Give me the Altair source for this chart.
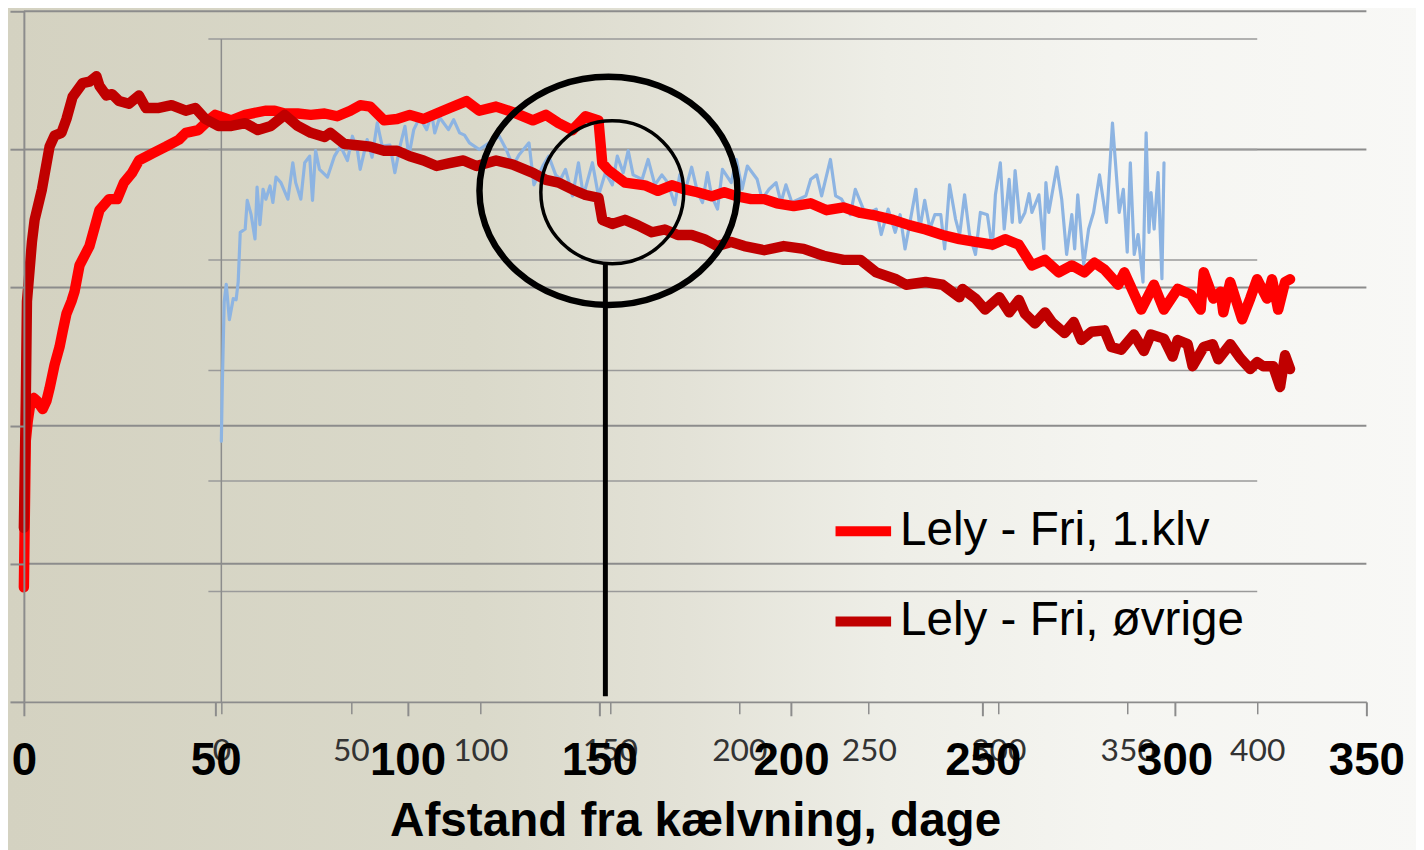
import altair as alt
import pandas as pd

# ---------------- data ----------------
series_names = ["Lely - Fri, 1.klv", "Lely - Fri, øvrige"]
series_colors = ["#FF0000", "#C00000"]

klv1_day = [0, 0.5, 1.0, 1.8, 2.6, 3.4, 4.9, 5.9, 6.7, 8.0,
            9.3, 10.1, 11.1, 12.4, 13.2, 14.5, 17.1, 19.7, 22.2, 24.3,
            26.1, 28.2, 30.0, 33.4, 37.0, 40.4, 42.2, 45.5, 48.1, 49.9,
            54.1, 57.7, 62.9, 65.4, 68.0, 71.4, 74.8, 78.4, 81.7, 85.1,
            87.7, 90.3, 93.9, 97.3, 100.6, 104.2, 107.6, 111.0, 115.4, 118.7,
            123.1, 127.5, 132.7, 136.1, 139.4, 143.0, 146.4, 149.8, 150.8, 152.4,
            156.7, 161.9, 165.3, 168.9, 172.3, 175.6, 179.3, 182.6, 186.0, 189.6,
            193.0, 196.3, 200.7, 205.1, 209.3, 213.7, 218.1, 222.2, 226.6, 231.0,
            235.1, 239.5, 243.9, 248.1, 252.5, 255.8, 259.4, 262.8, 266.2, 269.8,
            273.2, 276.5, 279.1, 281.7, 285.3, 286.9, 291.3, 294.6, 297.2, 300.8,
            304.2, 306.8, 307.6, 310.1, 312.0, 312.7, 314.5, 317.6, 319.7, 321.5,
            324.1, 325.4, 327.0, 328.8, 330.1]
klv1_val = [8.3, 18.9, 20.3, 21.8, 22.0, 21.8, 21.2, 21.8, 22.7, 24.4,
            25.7, 26.8, 28.1, 29.0, 29.7, 31.6, 33.0, 35.6, 36.4, 36.4,
            37.6, 38.3, 39.2, 39.7, 40.2, 40.7, 41.2, 41.4, 42.1, 42.5,
            42.1, 42.5, 42.8, 42.8, 42.6, 42.6, 42.5, 42.6, 42.4, 42.8,
            43.2, 43.1, 42.1, 42.2, 42.5, 42.2, 42.6, 43.0, 43.5, 42.8,
            43.1, 42.7, 42.1, 42.5, 41.9, 41.4, 42.4, 42.1, 39.0, 38.5,
            37.6, 37.4, 37.0, 37.4, 37.1, 36.9, 36.6, 36.9, 36.6, 36.4,
            36.4, 36.1, 35.9, 36.1, 35.6, 35.8, 35.4, 35.2, 34.9, 34.5,
            34.2, 33.8, 33.5, 33.3, 33.1, 33.5, 33.1, 31.6, 32.0, 31.1,
            31.6, 31.1, 31.8, 31.3, 30.2, 31.1, 28.4, 30.2, 28.4, 29.9,
            29.5, 28.4, 31.1, 29.2, 29.7, 28.2, 30.4, 27.7, 29.2, 30.6,
            29.2, 30.6, 28.4, 30.4, 30.6]

ovr_day = [0, 0.5, 0.8, 2.1, 2.8, 4.7, 6.7, 8.0, 9.8, 11.1,
           12.7, 15.3, 17.1, 18.9, 19.7, 21.5, 23.0, 24.8, 27.4, 30.0,
           31.8, 35.2, 38.5, 42.2, 44.7, 47.3, 50.7, 54.1, 57.7, 61.0,
           64.4, 68.0, 71.4, 74.8, 78.4, 79.9, 83.5, 86.9, 90.3, 93.9,
           97.3, 100.6, 104.2, 107.6, 111.0, 114.6, 118.0, 123.1, 127.5, 132.7,
           136.1, 139.4, 143.0, 146.4, 149.8, 150.8, 153.4, 156.7, 160.1, 163.7,
           167.1, 170.5, 174.1, 177.4, 180.8, 184.4, 187.8, 193.0, 198.1, 203.3,
           208.5, 213.7, 218.1, 222.2, 227.4, 230.0, 235.1, 239.5, 243.9, 244.7,
           248.1, 250.6, 254.3, 256.9, 259.4, 261.0, 263.6, 266.2, 268.0, 271.3,
           273.7, 275.7, 278.3, 281.7, 283.5, 286.1, 289.4, 292.0, 293.8, 297.2,
           299.5, 300.8, 303.4, 304.7, 307.6, 309.9, 311.4, 314.5, 317.1, 319.7,
           321.5, 323.1, 325.7, 327.5, 328.8, 330.1]
ovr_val = [12.6, 21.8, 29.0, 33.3, 34.9, 37.1, 40.2, 41.0, 41.2, 42.2,
           43.8, 44.8, 44.9, 45.3, 44.6, 43.9, 44.0, 43.5, 43.3, 43.9,
           43.0, 43.0, 43.2, 42.8, 43.0, 42.2, 41.7, 41.7, 41.9, 41.4,
           41.7, 42.5, 41.7, 41.2, 40.9, 41.2, 40.4, 40.3, 40.2, 39.9,
           39.9, 39.5, 39.2, 38.8, 39.0, 39.2, 38.8, 39.2, 38.9, 38.3,
           37.8, 37.6, 37.1, 36.7, 36.5, 34.9, 34.6, 34.9, 34.5, 34.0,
           34.2, 33.8, 33.8, 33.5, 33.0, 33.3, 33.0, 32.7, 33.0, 32.8,
           32.3, 32.0, 32.0, 31.1, 30.6, 30.2, 30.4, 30.2, 29.3, 29.9,
           29.2, 28.4, 29.3, 28.2, 29.1, 28.1, 27.4, 28.2, 27.5, 26.7,
           27.5, 26.2, 26.8, 26.9, 25.7, 25.5, 26.6, 25.4, 26.6, 26.3,
           25.0, 26.2, 25.9, 24.3, 25.7, 25.9, 24.8, 25.9, 24.9, 24.1,
           24.6, 24.3, 24.3, 22.8, 25.1, 24.1]

blue_day = [0, 0.4, 1.1, 1.9, 3.1, 4.6, 5.7, 6.5, 7.3, 9.2,
            10.0, 11.5, 13.0, 13.8, 14.9, 16.1, 17.2, 18.8, 19.9, 21.1,
            23.0, 25.7, 27.6, 28.7, 30.7, 32.2, 34.1, 35.2, 36.4, 37.9,
            41.0, 43.7, 46.0, 48.7, 50.6, 52.5, 53.6, 56.3, 58.2, 60.2,
            62.1, 65.1, 67.0, 69.0, 70.9, 72.4, 74.3, 76.6, 79.3, 81.2,
            82.4, 84.3, 87.7, 89.7, 92.0, 93.9, 95.8, 99.6, 103.4, 107.3,
            110.0, 112.6, 114.9, 118.8, 120.7, 124.1, 126.4, 129.1, 131.0, 132.9,
            135.6, 137.9, 139.8, 143.3, 145.6, 148.3, 151.0, 152.9, 155.2, 157.1,
            159.0, 162.5, 164.8, 167.4, 170.1, 172.4, 175.1, 177.0, 178.9, 181.6,
            183.9, 185.8, 187.7, 189.3, 191.6, 193.5, 196.9, 198.9, 201.1, 203.1,
            206.9, 208.8, 211.5, 214.2, 216.1, 218.0, 220.3, 223.0, 225.7, 227.6,
            229.9, 231.8, 235.2, 237.2, 239.5, 242.9, 244.8, 247.9, 250.6, 252.9,
            254.8, 257.5, 260.2, 262.1, 264.0, 265.9, 268.2, 269.7, 271.6, 273.6,
            275.5, 277.8, 279.3, 281.2, 283.5, 285.1, 287.0, 288.9, 291.2, 293.1,
            295.8, 297.7, 298.9, 300.8, 302.3, 304.2, 305.4, 306.5, 308.4, 310.3,
            311.9, 313.0, 315.7, 317.6, 318.4, 319.5, 322.6, 324.5, 326.4, 328.4,
            329.5, 330.7, 333.0, 334.9, 336.8, 339.1, 341.8, 344.1, 346.7, 348.3,
            349.8, 351.0, 352.5, 354.0, 355.9, 357.1, 358.2, 359.0, 360.2, 361.7,
            363.2, 364.0]
blue_val = [23.6, 29.0, 36.2, 37.8, 34.6, 36.5, 36.4, 38.0, 42.5, 42.8,
            45.4, 44.1, 41.9, 46.6, 43.2, 46.4, 45.5, 46.7, 45.2, 47.5,
            47.0, 45.5, 48.8, 47.0, 45.5, 48.8, 49.4, 45.4, 49.9, 48.2,
            47.5, 49.4, 50.3, 49.0, 51.2, 50.0, 48.2, 50.9, 49.3, 52.4,
            50.3, 50.4, 47.9, 50.3, 52.1, 49.4, 51.8, 52.9, 51.8, 53.3,
            51.5, 52.9, 51.8, 52.7, 51.5, 51.3, 50.6, 50.0, 50.6, 51.2,
            50.0, 48.5, 49.5, 50.6, 46.8, 48.5, 49.4, 47.7, 47.3, 48.2,
            45.8, 48.8, 45.8, 48.8, 45.8, 47.9, 46.8, 49.4, 47.9, 49.9,
            47.7, 47.3, 49.1, 46.8, 47.7, 47.0, 45.0, 47.7, 46.1, 48.4,
            46.1, 45.2, 47.9, 45.8, 44.6, 48.2, 47.0, 49.1, 46.4, 48.5,
            47.3, 45.5, 46.4, 47.0, 45.2, 46.8, 45.2, 45.5, 45.8, 47.3,
            47.7, 45.8, 49.1, 45.8, 45.5, 44.1, 46.4, 44.6, 44.3, 44.6,
            42.3, 44.6, 42.5, 44.1, 41.0, 43.4, 46.4, 42.8, 45.4, 42.8,
            44.1, 44.1, 41.0, 46.8, 43.7, 42.3, 45.9, 42.3, 40.5, 44.3,
            44.1, 41.0, 45.9, 48.8, 42.8, 47.3, 43.4, 48.1, 43.4, 44.3,
            46.0, 44.3, 45.9, 41.0, 47.0, 44.3, 48.4, 45.5, 40.5, 44.1,
            41.0, 45.9, 39.6, 42.8, 44.3, 47.7, 43.4, 52.4, 44.3, 46.4,
            40.7, 48.8, 40.5, 42.3, 38.0, 51.5, 42.5, 46.1, 42.8, 47.9,
            38.3, 48.8]

main_x_ticks = [0, 50, 100, 150, 200, 250, 300, 350]
sec_x_ticks = [0, 50, 100, 150, 200, 250, 300, 350, 400]
main_y_ticks = [0, 10, 20, 30, 40, 50]
main_grid = [10, 20, 30, 40, 50]
sec_grid = [10, 20, 30, 40, 50, 60]
sec_grid_span = [-5, 400]          # inset grid runs from just left of its axis to day 400
sec_axis_span = [0, 60]            # inset vertical axis line

# annotation (circles at the day-150 shift and pointer line)
ring_day, ring_val = [152.4], [37.0]
inner_day, inner_val = [153.4], [36.9]
pointer_day, pointer_top, pointer_bottom = [151.6], [31.8], [0.4]

# ---------------- layout ----------------
W, H = 1353, 696
GRID = "#8c8c8c"

main_x_scale = alt.Scale(domain=[0, 350], nice=False, zero=False)
main_y_scale = alt.Scale(domain=[0, 50], nice=False, zero=False)
sec_x_scale = alt.Scale(domain=[-76.25, 442.15], nice=False, zero=False)
sec_y_scale = alt.Scale(domain=[0, 62.51], nice=False, zero=False)

main_x_axis = alt.Axis(values=main_x_ticks, orient="bottom", domain=True, domainColor=GRID,
                       domainWidth=2, grid=False, ticks=True, tickSize=14, tickColor=GRID,
                       tickWidth=2, labelFont="Liberation Sans", labelFontSize=46,
                       labelFontWeight="bold", labelColor="black", labelPadding=23,
                       labelFlush=False, labelOverlap=False,
                       title="Afstand fra kælvning, dage", titleFont="Liberation Sans",
                       titleFontSize=48, titleFontWeight="bold", titleColor="black",
                       titleBaseline="top", titleY=97, zindex=1)
sec_x_axis = alt.Axis(values=sec_x_ticks, orient="bottom", domain=False, grid=False,
                      ticks=True, tickSize=12, tickColor=GRID, tickWidth=1.5,
                      labelFont="Lato", labelFontSize=32, labelColor="#333333",
                      labelPadding=22, labelFlush=False, labelOverlap=False,
                      title=None, zindex=1)

df_red = pd.concat([
    pd.DataFrame({"d": klv1_day, "v": klv1_val, "s": series_names[0]}),
    pd.DataFrame({"d": ovr_day, "v": ovr_val, "s": series_names[1]}),
], ignore_index=True)
df_red["i"] = range(len(df_red))
df_blue = pd.DataFrame({"d": blue_day, "v": blue_val})
df_blue["i"] = range(len(df_blue))
df_sec_grid = pd.DataFrame({"g": sec_grid, "d": sec_grid_span[0], "d2": sec_grid_span[1]})
df_sec_axis = pd.DataFrame({"d": [0], "v": [sec_axis_span[0]], "v2": [sec_axis_span[1]]})

# ---- child A: background and main grid ----
bg = alt.Chart(pd.DataFrame({"k": [0]})).mark_rect(
    fill=alt.Gradient(
        gradient="linear", x1=0, x2=1, y1=0, y2=0,
        stops=[
            alt.GradientStop(color="#D4D2C1", offset=0),
            alt.GradientStop(color="#DAD9CA", offset=0.33),
            alt.GradientStop(color="#E3E2D7", offset=0.48),
            alt.GradientStop(color="#EEEEE7", offset=0.62),
            alt.GradientStop(color="#F5F5F1", offset=0.78),
            alt.GradientStop(color="#F8F8F6", offset=1),
        ],
    )
).encode(x=alt.value(-16), x2=alt.value(W + 60), y=alt.value(-10), y2=alt.value(H + 160))

main_grid_rules = alt.Chart(pd.DataFrame({"g": main_grid})).mark_rule(
    color=GRID, strokeWidth=2
).encode(
    y=alt.Y("g:Q", scale=main_y_scale,
            axis=alt.Axis(values=main_y_ticks, grid=False, labels=False, ticks=True,
                          tickSize=14, tickColor=GRID, tickWidth=2, domain=True,
                          domainColor=GRID, domainWidth=2, title=None, zindex=1)),
    x=alt.value(0), x2=alt.value(W),
)
child_a = alt.layer(bg, main_grid_rules)

# ---- child B: secondary (inset) axes and blue series ----
sec_grid_rules = alt.Chart(df_sec_grid).mark_rule(
    color="#9a9a9a", strokeWidth=1.5
).encode(
    y=alt.Y("g:Q", scale=sec_y_scale, axis=None),
    x=alt.X("d:Q", scale=sec_x_scale, axis=sec_x_axis), x2="d2:Q",
)
sec_vline = alt.Chart(df_sec_axis).mark_rule(
    color=GRID, strokeWidth=1.5
).encode(
    x=alt.X("d:Q", scale=sec_x_scale, axis=sec_x_axis),
    y=alt.Y("v:Q", scale=sec_y_scale, axis=None), y2="v2:Q",
)
blue = alt.Chart(df_blue).mark_line(
    color="#8DB4E2", strokeWidth=3.2, strokeJoin="round", strokeCap="round"
).encode(
    x=alt.X("d:Q", scale=sec_x_scale, axis=sec_x_axis),
    y=alt.Y("v:Q", scale=sec_y_scale, axis=None),
    order="i:Q",
)
child_b = alt.layer(sec_grid_rules, sec_vline, blue)

# ---- child C: red series, legend, annotation ----
reds = alt.Chart(df_red).mark_line(
    strokeWidth=10.5, strokeJoin="round", strokeCap="round"
).encode(
    x=alt.X("d:Q", scale=main_x_scale, axis=main_x_axis),
    y=alt.Y("v:Q", scale=main_y_scale, axis=None),
    color=alt.Color("s:N", scale=alt.Scale(domain=series_names, range=series_colors),
                    legend=alt.Legend(title=None, orient="none", legendX=813, legendY=491,
                                      symbolType="stroke", symbolSize=3136,
                                      symbolStrokeWidth=10, labelFont="Liberation Sans",
                                      labelFontSize=48, labelColor="black", labelOffset=4,
                                      labelLimit=800, rowPadding=34, padding=0)),
    order="i:Q",
)

ellipse_path = "M -1 0 A 1 0.885 0 1 1 1 0 A 1 0.885 0 1 1 -1 0 Z"
ring = alt.Chart(pd.DataFrame({"d": ring_day, "v": ring_val})).mark_point(
    shape=ellipse_path, size=260 * 260, filled=False, stroke="black",
    strokeWidth=6.5, opacity=1
).encode(x=alt.X("d:Q", scale=main_x_scale, axis=main_x_axis),
         y=alt.Y("v:Q", scale=main_y_scale, axis=None))
inner = alt.Chart(pd.DataFrame({"d": inner_day, "v": inner_val})).mark_point(
    shape="circle", size=144 * 144, filled=False, stroke="black",
    strokeWidth=3.5, opacity=1
).encode(x=alt.X("d:Q", scale=main_x_scale, axis=main_x_axis),
         y=alt.Y("v:Q", scale=main_y_scale, axis=None))
pointer = alt.Chart(pd.DataFrame({"d": pointer_day, "v": pointer_top, "v2": pointer_bottom})).mark_rule(
    color="black", strokeWidth=5
).encode(x=alt.X("d:Q", scale=main_x_scale, axis=main_x_axis),
         y=alt.Y("v:Q", scale=main_y_scale, axis=None), y2="v2:Q")
child_c = alt.layer(reds, ring, inner, pointer)

chart = alt.layer(child_a, child_b, child_c).resolve_scale(
    x="independent", y="independent"
).properties(
    width=W, height=H,
    autosize=alt.AutoSizeParams(type="none"),
    padding={"left": 16, "top": 0, "right": 50, "bottom": 150},
).configure_view(stroke=None)

chart.save("out.html", embed_options={"renderer": "svg", "actions": False})
